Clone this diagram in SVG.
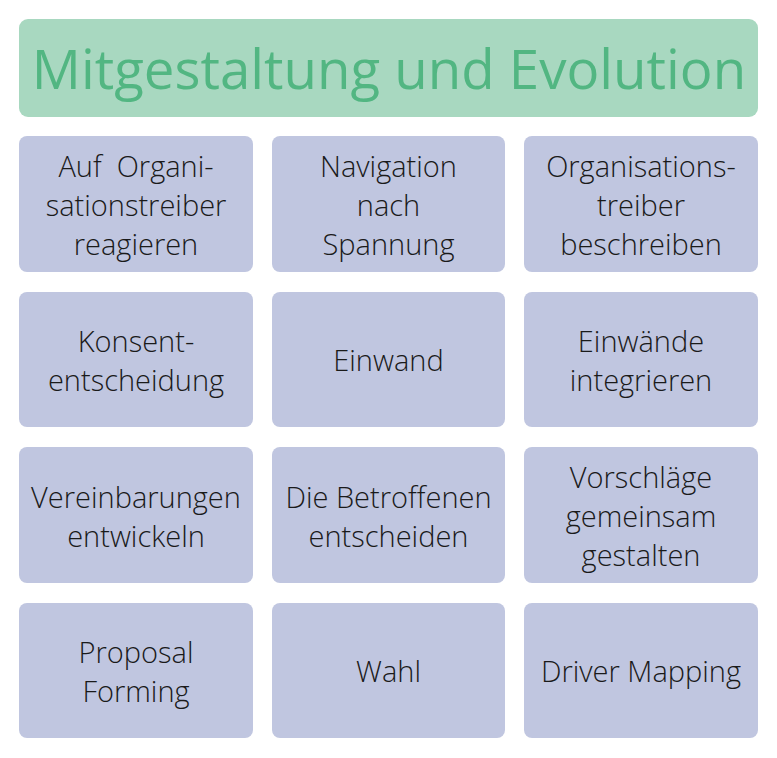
<svg xmlns="http://www.w3.org/2000/svg" width="777" height="758" viewBox="0 0 777 758">
<style>
.box{fill:#c0c6e0}
.t{font-family:"Open Sans","DejaVu Sans",sans-serif;font-weight:300;font-size:29px;fill:#1a1a1a;text-anchor:middle;white-space:pre}
.title{font-family:"Open Sans","DejaVu Sans",sans-serif;font-weight:400;font-size:54.6px;fill:#52b682;text-anchor:middle}
</style>
<rect width="777" height="758" fill="#ffffff"/>
<g id="title">
<rect x="19" y="19" width="739" height="98" rx="9" fill="#a8d8c0"/>
<text class="title" x="389" y="89">Mitgestaltung und Evolution</text>
</g>
<g id="n1"><rect class="box" x="19" y="136" width="234" height="136" rx="8"/>
<text class="t" x="136" y="177" xml:space="preserve">Auf  Organi-</text><text class="t" x="136" y="216">sationstreiber</text><text class="t" x="136" y="255">reagieren</text></g>
<g id="n2"><rect class="box" x="272" y="136" width="233" height="136" rx="8"/>
<text class="t" x="388.5" y="177">Navigation</text><text class="t" x="388.5" y="216">nach</text><text class="t" x="388.5" y="255">Spannung</text></g>
<g id="n3"><rect class="box" x="524" y="136" width="234" height="136" rx="8"/>
<text class="t" x="641" y="177">Organisations-</text><text class="t" x="641" y="216">treiber</text><text class="t" x="641" y="255">beschreiben</text></g>
<g id="n4"><rect class="box" x="19" y="292" width="234" height="135" rx="8"/>
<text class="t" x="136" y="352">Konsent-</text><text class="t" x="136" y="391">entscheidung</text></g>
<g id="n5"><rect class="box" x="272" y="292" width="233" height="135" rx="8"/>
<text class="t" x="388.5" y="371">Einwand</text></g>
<g id="n6"><rect class="box" x="524" y="292" width="234" height="135" rx="8"/>
<text class="t" x="641" y="352">Einwände</text><text class="t" x="641" y="391">integrieren</text></g>
<g id="n7"><rect class="box" x="19" y="447" width="234" height="136" rx="8"/>
<text class="t" x="136" y="508">Vereinbarungen</text><text class="t" x="136" y="547">entwickeln</text></g>
<g id="n8"><rect class="box" x="272" y="447" width="233" height="136" rx="8"/>
<text class="t" x="388.5" y="508">Die Betroffenen</text><text class="t" x="388.5" y="547">entscheiden</text></g>
<g id="n9"><rect class="box" x="524" y="447" width="234" height="136" rx="8"/>
<text class="t" x="641" y="488">Vorschläge</text><text class="t" x="641" y="527">gemeinsam</text><text class="t" x="641" y="566">gestalten</text></g>
<g id="n10"><rect class="box" x="19" y="603" width="234" height="135" rx="8"/>
<text class="t" x="136" y="663">Proposal</text><text class="t" x="136" y="702">Forming</text></g>
<g id="n11"><rect class="box" x="272" y="603" width="233" height="135" rx="8"/>
<text class="t" x="388.5" y="682">Wahl</text></g>
<g id="n12"><rect class="box" x="524" y="603" width="234" height="135" rx="8"/>
<text class="t" x="641" y="682">Driver Mapping</text></g>
<g id="connectors"></g>
</svg>
